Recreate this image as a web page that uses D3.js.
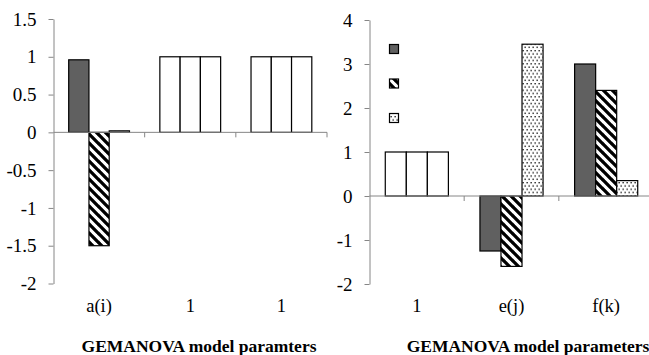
<!DOCTYPE html>
<html>
<head>
<meta charset="utf-8">
<script src="https://cdn.jsdelivr.net/npm/d3@7"></script>
<style>
  body { margin: 0; background: #fff; }
</style>
</head>
<body>
<script>
// left panel
const leftCats = ["a(i)", "1", "1"];
const leftDark = [0.96, 1, 1];
const leftHatch = [-1.5, 1, 1];
const leftDots = [0.02, 1, 1];
const leftPlain = [false, true, true];   // constant "1" groups are drawn plain white
const leftTicks = [-2, -1.5, -1, -0.5, 0, 0.5, 1, 1.5];
const leftTitle = "GEMANOVA model paramters";

// right panel
const rightCats = ["1", "e(j)", "f(k)"];
const rightDark = [1, -1.25, 3.0];
const rightHatch = [1, -1.6, 2.4];
const rightDots = [1, 3.45, 0.35];
const rightPlain = [true, false, false];
const rightTicks = [-2, -1, 0, 1, 2, 3, 4];
const rightTitle = "GEMANOVA model parameters";

const width = 649, height = 355;
const axisColor = "#868686";
const serif = "Liberation Serif";
const fills = ["#606060", "url(#hatch)", "url(#dots)"];

const svg = d3.select("body").append("svg")
    .attr("width", width)
    .attr("height", height)
    .attr("font-family", serif);

const defs = svg.append("defs");

const hatch = defs.append("pattern")
    .attr("id", "hatch")
    .attr("patternUnits", "userSpaceOnUse")
    .attr("width", 9).attr("height", 9);
hatch.append("rect").attr("width", 9).attr("height", 9).attr("fill", "#fff");
hatch.append("path")
    .attr("d", "M-1,-1L10,10M-1,8L10,19M8,-1L19,10M-10,-1L1,10")
    .attr("stroke", "#000")
    .attr("stroke-width", 3.3);

const dots = defs.append("pattern")
    .attr("id", "dots")
    .attr("patternUnits", "userSpaceOnUse")
    .attr("width", 4).attr("height", 6.6);
dots.append("rect").attr("width", 4).attr("height", 6.6).attr("fill", "#fff");
dots.append("rect").attr("x", 0.5).attr("y", 0.5).attr("width", 1.3).attr("height", 1.3).attr("fill", "#000");
dots.append("rect").attr("x", 2.5).attr("y", 3.8).attr("width", 1.3).attr("height", 1.3).attr("fill", "#000");

function panel(cfg) {
    const g = svg.append("g");
    const series = [cfg.dark, cfg.hatch, cfg.dots];

    const x = d3.scaleBand()
        .domain(d3.range(cfg.cats.length))
        .range(cfg.xRange);
    const x1 = d3.scaleBand()
        .domain([0, 1, 2])
        .range([0, x.bandwidth()])
        .paddingOuter(0.75);
    const y = d3.scaleLinear()
        .domain(d3.extent(cfg.ticks))
        .range(cfg.yRange);

    // y axis
    const yAxis = g.append("g")
        .attr("transform", "translate(" + cfg.xRange[0] + ",0)")
        .call(d3.axisLeft(y)
            .tickValues(cfg.ticks)
            .tickFormat(function (d) { return String(d); })
            .tickSize(5)
            .tickSizeOuter(0)
            .tickPadding(12));
    yAxis.attr("font-family", serif).attr("font-size", 19);
    yAxis.selectAll("path, line").attr("stroke", axisColor);
    yAxis.selectAll("text").attr("fill", "#000");

    // bars
    cfg.cats.forEach(function (c, i) {
        series.forEach(function (s, k) {
            const v = s[i];
            g.append("rect")
                .attr("x", x(i) + x1(k))
                .attr("y", y(Math.max(0, v)))
                .attr("width", x1.bandwidth())
                .attr("height", Math.abs(y(v) - y(0)))
                .attr("fill", cfg.plain[i] ? "#fff" : fills[k])
                .attr("stroke", "#000")
                .attr("stroke-width", 1.2);
        });
    });

    // x axis line at zero with ticks between categories
    g.append("line")
        .attr("x1", cfg.xRange[0]).attr("x2", cfg.xRange[1])
        .attr("y1", y(0)).attr("y2", y(0))
        .attr("stroke", axisColor);
    g.selectAll(".xtick")
        .data(d3.range(1, cfg.cats.length + 1))
        .enter().append("line")
        .attr("x1", function (d) { return x.range()[0] + d * x.step(); })
        .attr("x2", function (d) { return x.range()[0] + d * x.step(); })
        .attr("y1", y(0)).attr("y2", y(0) + 5)
        .attr("stroke", axisColor);

    // category labels along the bottom
    g.selectAll(".xlab")
        .data(cfg.cats)
        .enter().append("text")
        .attr("x", function (d, i) { return x(i) + x.bandwidth() / 2; })
        .attr("y", 312)
        .attr("text-anchor", "middle")
        .attr("font-family", serif)
        .attr("font-size", 18.5)
        .text(function (d) { return d; });

    g.append("text")
        .attr("x", cfg.titleX)
        .attr("y", 352)
        .attr("text-anchor", "middle")
        .attr("font-family", serif)
        .attr("font-size", 17.5)
        .attr("font-weight", "bold")
        .text(cfg.title);
}

panel({
    cats: leftCats, dark: leftDark, hatch: leftHatch, dots: leftDots, plain: leftPlain,
    ticks: leftTicks, title: leftTitle,
    xRange: [53.5, 327], yRange: [283.5, 19], titleX: 199
});

panel({
    cats: rightCats, dark: rightDark, hatch: rightHatch, dots: rightDots, plain: rightPlain,
    ticks: rightTicks, title: rightTitle,
    xRange: [369.5, 653.5], yRange: [284, 20], titleX: 528
});

// legend markers (no labels in the original)
svg.selectAll(".legend")
    .data(fills)
    .enter().append("rect")
    .attr("x", 389.5)
    .attr("y", function (d, i) { return 44.5 + i * 34.5; })
    .attr("width", 9)
    .attr("height", 9)
    .attr("fill", function (d) { return d; })
    .attr("stroke", "#000")
    .attr("stroke-width", 1.2);
</script>
</body>
</html>
